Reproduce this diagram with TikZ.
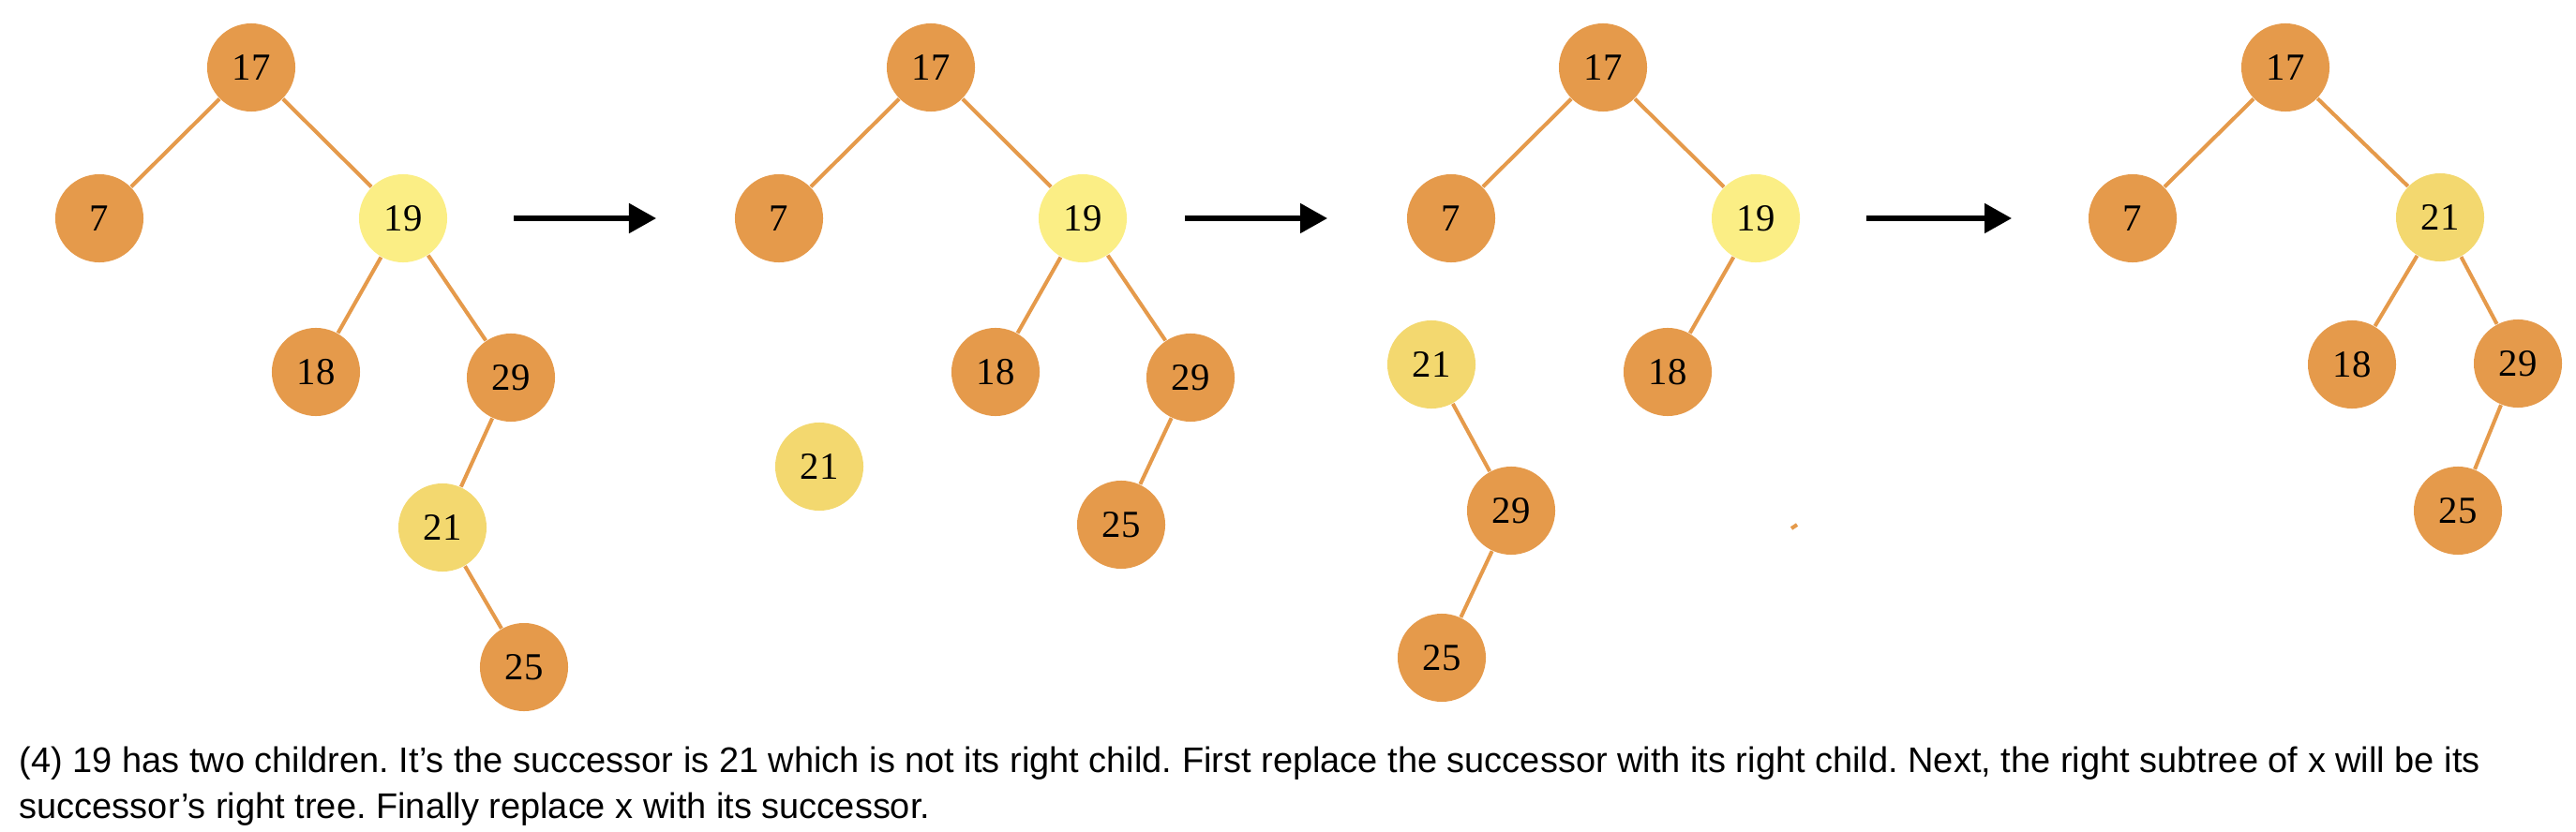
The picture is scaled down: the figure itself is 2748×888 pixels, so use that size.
\documentclass[tikz,border=0pt]{standalone}
\usepackage{fontspec}
\setmainfont{Liberation Serif}
\setsansfont{Liberation Sans}
\usetikzlibrary{arrows.meta}
\frenchspacing
\definecolor{treeorange}{HTML}{E59A4B}
\definecolor{paleyellow}{HTML}{FBEE85}
\definecolor{goldyellow}{HTML}{F3D86F}
\tikzset{
  key/.style={circle,minimum size=0.94cm,inner sep=0pt,fill=treeorange,
    font=\fontsize{11.6pt}{12pt}\selectfont},
  cur/.style={key,fill=paleyellow},
  succ/.style={key,fill=goldyellow},
  link/.style={treeorange,line width=1.15pt},
  stepto/.style={-{Triangle[length=0.29cm,width=0.31cm]},line width=1.45pt}
}
\begin{document}
\begin{tikzpicture}[x=0.01cm,y=-0.01cm]
  \useasboundingbox (0,0) rectangle (2748,888);

  % first tree
  \node[key] (a17) at (268,72)  {17};
  \node[key] (a7)  at (106,233) {7};
  \node[cur] (a19) at (430,233) {19};
  \node[key] (a18) at (337,397) {18};
  \node[key] (a29) at (545,403) {29};
  \node[succ] (a21) at (472,563) {21};
  \node[key] (a25) at (559,712) {25};

  % second tree
  \node[key] (b17) at (993,72)   {17};
  \node[key] (b7)  at (831,233)  {7};
  \node[cur] (b19) at (1155,233) {19};
  \node[key] (b18) at (1062,397) {18};
  \node[key] (b29) at (1270,403) {29};
  \node[succ] (b21) at (874,498) {21};
  \node[key] (b25) at (1196,560) {25};

  % third tree
  \node[key] (c17) at (1710,72)  {17};
  \node[key] (c7)  at (1548,233) {7};
  \node[cur] (c19) at (1873,233) {19};
  \node[succ] (c21) at (1527,389) {21};
  \node[key] (c18) at (1779,397) {18};
  \node[key] (c29) at (1612,545) {29};
  \node[key] (c25) at (1538,702) {25};

  % fourth tree
  \node[key] (d17) at (2438,72)  {17};
  \node[key] (d7)  at (2275,233) {7};
  \node[succ] (d21) at (2603,232) {21};
  \node[key] (d18) at (2509,389) {18};
  \node[key] (d29) at (2686,388) {29};
  \node[key] (d25) at (2622,545) {25};

  \foreach \from/\to in {a17/a7,a17/a19,a19/a18,a19/a29,a29/a21,a21/a25,
      b17/b7,b17/b19,b19/b18,b19/b29,b29/b25,
      c17/c7,c17/c19,c19/c18,c21/c29,c29/c25,
      d17/d7,d17/d21,d21/d18,d21/d29,d29/d25}
    \draw[link] (\from) -- (\to);

  % stray tick
  \coordinate (dotA) at (1911,564);
  \coordinate (dotB) at (1917,560);
  \draw[link] (dotA) -- (dotB);

  % arrows between the trees
  \coordinate (p1) at (548,233);  \coordinate (q1) at (700,233);
  \coordinate (p2) at (1264,233); \coordinate (q2) at (1416,233);
  \coordinate (p3) at (1991,233); \coordinate (q3) at (2146,233);
  \foreach \i in {1,2,3}
    \draw[stepto] (p\i) -- (q\i);

  % caption
  \node[anchor=base west,inner sep=0pt,font=\sffamily\fontsize{10.8pt}{13pt}\selectfont]
    (line1) at (20,824) {(4) 19 has two children. It’s the successor is 21 which is not its right child. First replace the successor with its right child. Next, the right subtree of x will be its};
  \node[anchor=base west,inner sep=0pt,font=\sffamily\fontsize{10.8pt}{13pt}\selectfont]
    (line2) at (20,873) {successor’s right tree. Finally replace x with its successor.};
\end{tikzpicture}
\end{document}
